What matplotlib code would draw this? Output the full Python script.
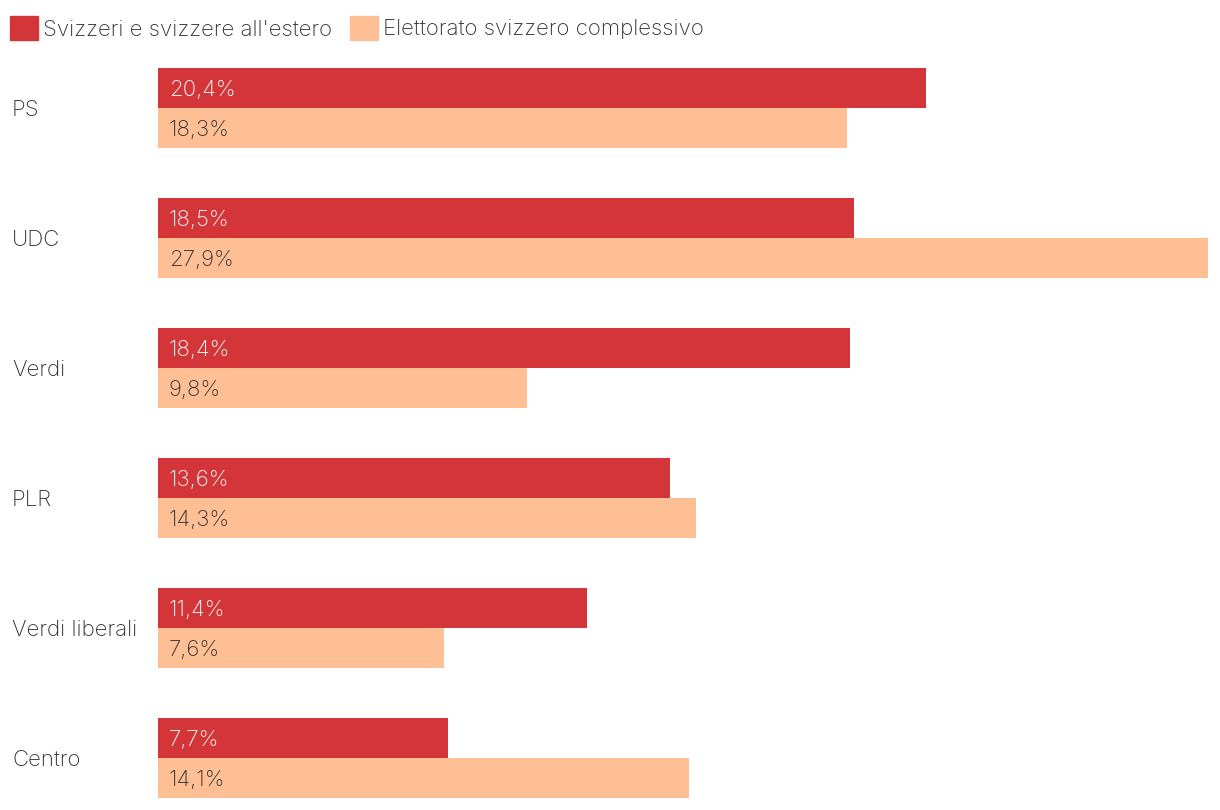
import matplotlib
matplotlib.use("Agg")
import matplotlib.pyplot as plt
import numpy as np
from matplotlib.patches import Patch

categories = ["PS", "UDC", "Verdi", "PLR", "Verdi liberali", "Centro"]
abroad = [20.4, 18.5, 18.4, 13.6, 11.4, 7.7]
overall = [18.3, 27.9, 9.8, 14.3, 7.6, 14.1]
series_names = ["Svizzeri e svizzere all'estero", "Elettorato svizzero complessivo"]

RED = "#d43539"
ORANGE = "#ffbf94"
TEXT = "#333333"
FONT = "Inter"
W = "light"
FS = 16

fig = plt.figure(figsize=(12.2, 8.1), dpi=100)
W_PX, H_PX = 1220, 810
ax = fig.add_axes([158 / W_PX, 1 - 798 / H_PX, 1050 / W_PX, (798 - 68) / H_PX])

y = np.arange(len(categories))
h = 40 / 130
ax.barh(y - h / 2, abroad, height=h, color=RED, label=series_names[0])
ax.barh(y + h / 2, overall, height=h, color=ORANGE, label=series_names[1])
ax.set_xlim(0, max(overall + abroad))
ax.set_ylim(len(categories) - 1 + h, -h)
ax.axis("off")

pad = 11 * max(overall + abroad) / 1050
for i in range(len(categories)):
    ax.text(pad, y[i] - h / 2, f"{abroad[i]:.1f}%".replace(".", ","), color="white",
            va="center_baseline", ha="left", fontsize=FS, family=FONT, weight=W)
    ax.text(pad, y[i] + h / 2, f"{overall[i]:.1f}%".replace(".", ","), color=TEXT,
            va="center_baseline", ha="left", fontsize=FS, family=FONT, weight=W)
    fig.text(12 / W_PX, 1 - (108 + 130 * i) / H_PX, categories[i], color=TEXT,
             va="center_baseline", ha="left", fontsize=FS, family=FONT, weight=W)

handles = [Patch(color=RED), Patch(color=ORANGE)]
leg = fig.legend(handles, series_names, loc="center left",
                 bbox_to_anchor=(10 / W_PX, 1 - 28 / H_PX), ncol=2, frameon=False,
                 borderpad=0, borderaxespad=0, handlelength=1.26, handleheight=1.26,
                 handletextpad=0.22, columnspacing=0.82,
                 prop={"family": FONT, "weight": W, "size": FS})
for t in leg.get_texts():
    t.set_color(TEXT)

fig.savefig("out.png", dpi=100)
